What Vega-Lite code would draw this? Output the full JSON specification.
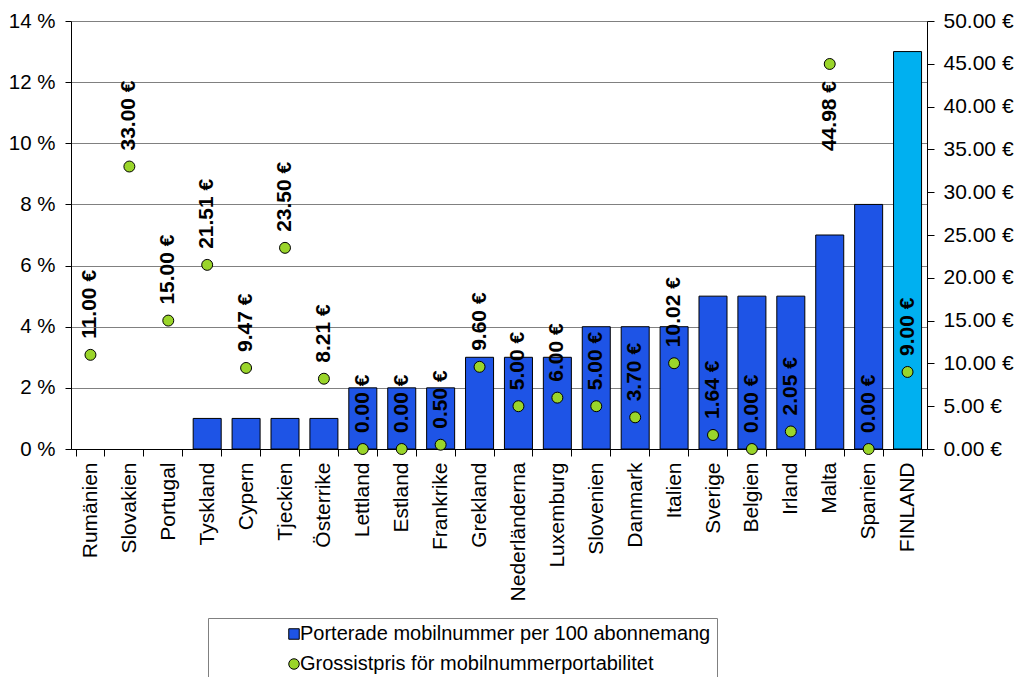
{
  "$schema": "https://vega.github.io/schema/vega-lite/v6.json",
  "width": 856,
  "height": 428,
  "autosize": {"type": "none"},
  "padding": {"left": 71, "top": 21, "right": 97, "bottom": 228},
  "background": "white",
  "config": {
    "view": {"stroke": null},
    "font": "Liberation Sans",
    "locale": {
      "number": {"decimal": ".", "thousands": ",", "grouping": [3], "currency": ["", " €"]}
    },
    "axis": {
      "domainColor": "black",
      "tickColor": "black",
      "labelColor": "black",
      "labelFont": "Liberation Sans",
      "gridColor": "#808080",
      "gridWidth": 1
    }
  },
  "data": {
    "values": [
      {"country": "Rumänien", "ported": 0, "price": 11.00},
      {"country": "Slovakien", "ported": 0, "price": 33.00},
      {"country": "Portugal", "ported": 0, "price": 15.00},
      {"country": "Tyskland", "ported": 1, "price": 21.51},
      {"country": "Cypern", "ported": 1, "price": 9.47},
      {"country": "Tjeckien", "ported": 1, "price": 23.50},
      {"country": "Österrike", "ported": 1, "price": 8.21},
      {"country": "Lettland", "ported": 2, "price": 0.00},
      {"country": "Estland", "ported": 2, "price": 0.00},
      {"country": "Frankrike", "ported": 2, "price": 0.50},
      {"country": "Grekland", "ported": 3, "price": 9.60},
      {"country": "Nederländerna", "ported": 3, "price": 5.00},
      {"country": "Luxemburg", "ported": 3, "price": 6.00},
      {"country": "Slovenien", "ported": 4, "price": 5.00},
      {"country": "Danmark", "ported": 4, "price": 3.70},
      {"country": "Italien", "ported": 4, "price": 10.02},
      {"country": "Sverige", "ported": 5, "price": 1.64},
      {"country": "Belgien", "ported": 5, "price": 0.00},
      {"country": "Irland", "ported": 5, "price": 2.05},
      {"country": "Malta", "ported": 7, "price": 44.98},
      {"country": "Spanien", "ported": 8, "price": 0.00},
      {"country": "FINLAND", "ported": 13, "price": 9.00}
    ]
  },
  "encoding": {
    "x": {
      "field": "country",
      "type": "nominal",
      "sort": ["Rumänien", "Slovakien", "Portugal", "Tyskland", "Cypern", "Tjeckien", "Österrike", "Lettland", "Estland", "Frankrike", "Grekland", "Nederländerna", "Luxemburg", "Slovenien", "Danmark", "Italien", "Sverige", "Belgien", "Irland", "Malta", "Spanien", "FINLAND"],
      "scale": {"paddingInner": 0.28, "paddingOuter": 0.14},
      "axis": {
        "title": null,
        "labelAngle": 270,
        "labelFontSize": 21,
        "labelPadding": 6,
        "tickSize": 7,
        "tickBand": "extent",
        "grid": false
      }
    }
  },
  "layer": [
    {
      "transform": [{"filter": "datum.ported > 0"}],
      "mark": {"type": "bar", "stroke": "black", "strokeWidth": 1},
      "encoding": {
        "y": {
          "field": "ported",
          "type": "quantitative",
          "scale": {"domain": [0, 14], "nice": false},
          "axis": {
            "title": null,
            "orient": "left",
            "values": [0, 2, 4, 6, 8, 10, 12, 14],
            "labelExpr": "datum.value + ' %'",
            "labelFontSize": 20.5,
            "labelPadding": 10,
            "tickSize": 6,
            "grid": true
          }
        },
        "color": {
          "datum": "Porterade mobilnummer per 100 abonnemang",
          "condition": {"test": "datum.country === 'FINLAND'", "value": "#00b0f0"},
          "scale": {
            "domain": ["Porterade mobilnummer per 100 abonnemang", "Grossistpris för mobilnummerportabilitet"],
            "range": ["#1e54e6", "#9ad52a"]
          },
          "legend": {
            "title": null,
            "orient": "none",
            "legendX": 137,
            "legendY": 597,
            "direction": "vertical",
            "padding": 6,
            "symbolOffset": 70,
            "strokeColor": "#808080",
            "fillColor": "white",
            "labelFontSize": 20,
            "labelFont": "Liberation Sans",
            "labelColor": "black",
            "labelLimit": 600,
            "labelOffset": -4,
            "rowPadding": 10,
            "symbolSize": 110,
            "symbolStrokeColor": "black",
            "symbolStrokeWidth": 1,
            "encode": {
              "symbols": {
                "update": {
                  "shape": {"signal": "datum.value === 'Porterade mobilnummer per 100 abonnemang' ? 'square' : 'circle'"}
                }
              }
            }
          }
        }
      }
    },
    {
      "encoding": {
        "y": {
          "field": "price",
          "type": "quantitative",
          "scale": {"domain": [0, 50], "nice": false},
          "axis": {
            "title": null,
            "orient": "right",
            "values": [0, 5, 10, 15, 20, 25, 30, 35, 40, 45, 50],
            "format": "$.2f",
            "labelFontSize": 21,
            "labelPadding": 9,
            "tickSize": 7,
            "grid": false
          }
        }
      },
      "layer": [
        {
          "mark": {"type": "point", "filled": true, "shape": "circle", "size": 120, "stroke": "black", "strokeWidth": 1, "opacity": 1},
          "encoding": {
            "color": {"datum": "Grossistpris för mobilnummerportabilitet"}
          }
        },
        {
          "transform": [{"filter": "datum.price < 40"}],
          "mark": {"type": "text", "angle": 270, "align": "left", "baseline": "middle", "dx": 16, "fontSize": 21, "fontWeight": "bold", "font": "Liberation Sans", "color": "black"},
          "encoding": {
            "text": {"field": "price", "type": "quantitative", "format": "$.2f"}
          }
        },
        {
          "transform": [{"filter": "datum.price >= 40"}],
          "mark": {"type": "text", "angle": 270, "align": "right", "baseline": "middle", "dx": -17, "fontSize": 21, "fontWeight": "bold", "font": "Liberation Sans", "color": "black"},
          "encoding": {
            "text": {"field": "price", "type": "quantitative", "format": "$.2f"}
          }
        }
      ]
    }
  ],
  "resolve": {"scale": {"y": "independent"}}
}
